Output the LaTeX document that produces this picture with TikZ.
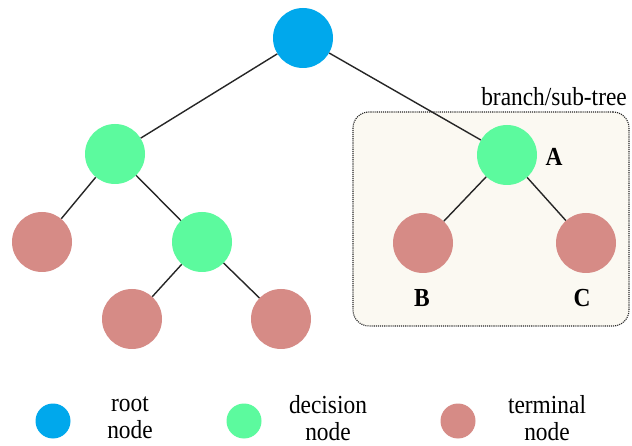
\documentclass[tikz,border=0pt]{standalone}
\usepackage{fontspec}
\setmainfont{Liberation Serif}[FakeStretch=0.9]
\definecolor{rootc}{RGB}{0,168,236}
\definecolor{decc}{RGB}{92,250,158}
\definecolor{termc}{RGB}{214,139,134}
\definecolor{boxfill}{RGB}{251,249,242}
\begin{document}
\begin{tikzpicture}[x=1pt,y=-1pt,
  tn/.style={circle,inner sep=0pt,minimum size=60pt},
  rootn/.style={tn,fill=rootc},
  decn/.style={tn,fill=decc},
  termn/.style={tn,fill=termc},
  legc/.style={circle,inner sep=0pt,minimum size=35pt},
  edge/.style={line width=1.4pt,black!85},
  lbl/.style={font=\fontsize{26}{28}\selectfont\bfseries},
  txt/.style={font=\fontsize{26}{27}\selectfont,align=center,inner sep=1pt}]
\useasboundingbox (0,0) rectangle (632,446);
\fill[white] (0,0) rectangle (632,446);
\node[draw=black!85,densely dotted,line width=1.1pt,fill=boxfill,rounded corners=16pt,
  minimum width=276pt,minimum height=214pt,inner sep=0pt] (box) at (491,219) {};
\node[txt,anchor=south east] (btxt) at (628,107) {branch/sub-tree};
\node[rootn] (root) at (303,38) {};
\node[decn] (L) at (115,154) {};
\node[decn] (A) at (507,155) {};
\node[termn] (T1) at (42,242) {};
\node[decn] (M) at (202,242) {};
\node[termn] (T2) at (132,319) {};
\node[termn] (T3) at (281,319) {};
\node[termn] (B) at (423,243) {};
\node[termn] (C) at (586,243) {};
\draw[edge] (root) -- (L);
\draw[edge] (root) -- (A);
\draw[edge] (L) -- (T1);
\draw[edge] (L) -- (M);
\draw[edge] (M) -- (T2);
\draw[edge] (M) -- (T3);
\draw[edge] (A) -- (B);
\draw[edge] (A) -- (C);
\node[lbl] (la) at (554,157) {A};
\node[lbl] (lb) at (422,298) {B};
\node[lbl] (lc) at (582,298) {C};
\node[legc,fill=rootc] (g1) at (53,421) {};
\node[legc,fill=decc] (g2) at (244,421) {};
\node[legc,fill=termc] (g3) at (458,421) {};
\node[txt] (t1) at (130,418) {root\\node};
\node[txt] (t2) at (328,418) {decision\\node};
\node[txt] (t3) at (547,418) {terminal\\node};
\end{tikzpicture}
\end{document}
